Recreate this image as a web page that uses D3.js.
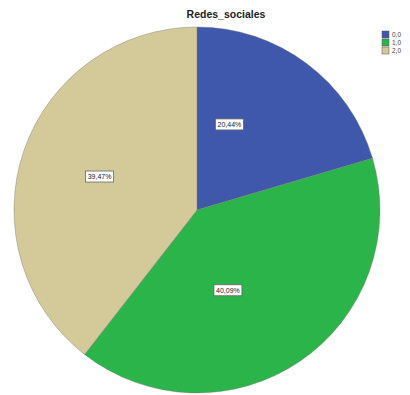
<!DOCTYPE html>
<html><head><meta charset="utf-8">
<script src="https://cdn.jsdelivr.net/npm/d3@7"></script>
<style>html,body{margin:0;padding:0;background:#fff;}svg{display:block;}</style>
</head><body>
<svg id="c" width="410" height="395"></svg>
<script>
const categories = ["0,0", "1,0", "2,0"];
const values = [20.44, 40.09, 39.47];
const labels = ["20,44%", "40,09%", "39,47%"];
const colors = ["#3F58AB", "#2AB44A", "#D4C999"];

// layout: label radius fraction and angle shift (radians) per slice
const labelRad = [0.5, 0.47, 0.563];
const labelShift = [-0.28, 0.23, 0.0];

const svg = d3.select("#c");
const cx = 197, cy = 210, r = 183;
const pie = d3.pie().sort(null).value(d => d)(values);
const arc = d3.arc().innerRadius(0).outerRadius(r);
const g = svg.append("g").attr("transform", `translate(${cx},${cy})`);
g.selectAll("path").data(pie).join("path")
  .attr("d", arc).attr("fill", (d,i) => colors[i])
  .attr("stroke", "#777").attr("stroke-width", 0.4);

const lg = g.selectAll("g.lab").data(pie).join("g").attr("class","lab")
  .attr("transform", (d,i) => {
    const a = (d.startAngle + d.endAngle)/2 + labelShift[i];
    const rr = r*labelRad[i];
    return `translate(${rr*Math.sin(a)},${-rr*Math.cos(a)})`;
  });
lg.append("rect").attr("x",-14).attr("y",-5.5).attr("width",28).attr("height",11)
  .attr("fill","#fff").attr("stroke","#666").attr("stroke-width",0.8);
lg.append("text").text((d,i)=>labels[i]).attr("text-anchor","middle").attr("dy","0.35em")
  .attr("font-family","Liberation Sans, Arial, sans-serif").attr("font-size",7).attr("fill","#222");

svg.append("text").attr("x",226).attr("y",18).attr("text-anchor","middle")
  .attr("font-family","Liberation Sans, Arial, sans-serif").attr("font-weight","bold")
  .attr("font-size",10.5).attr("fill","#222").text("Redes_sociales");

const leg = svg.append("g").attr("transform","translate(382,31)");
const li = leg.selectAll("g").data(categories).join("g").attr("transform",(d,i)=>`translate(0,${i*8})`);
li.append("rect").attr("width",7).attr("height",7).attr("fill",(d,i)=>colors[i]).attr("stroke","#555").attr("stroke-width",0.5);
li.append("text").attr("x",10).attr("y",6).attr("font-size",6.5).attr("font-family","Liberation Sans, Arial, sans-serif").attr("fill","#444").text(d=>d);
</script>
</body></html>
